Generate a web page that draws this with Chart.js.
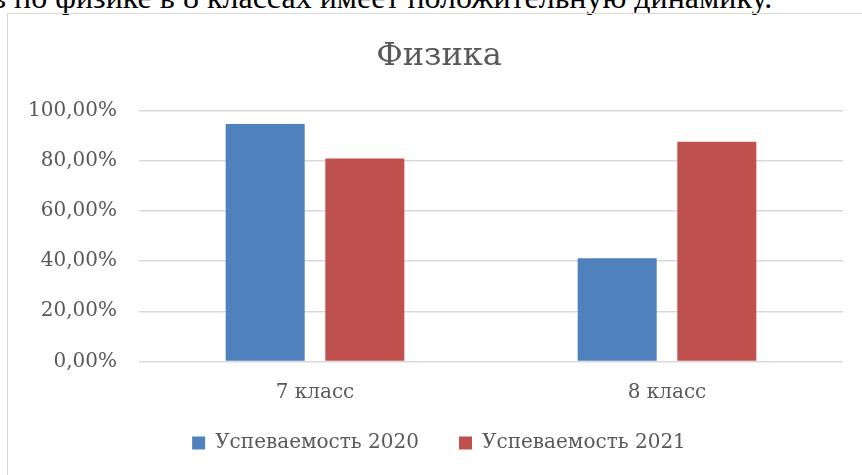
<!DOCTYPE html>
<html>
<head>
<meta charset="utf-8">
<script src="https://cdn.jsdelivr.net/npm/chart.js@4.4.0/dist/chart.umd.min.js"></script>
<style>
    html, body { margin: 0; padding: 0; background: #fff; overflow: hidden; }
    body { width: 862px; height: 475px; position: relative; }
    #doc-text {
        position: absolute; left: -9px; top: -19px; white-space: nowrap;
        font-family: "Liberation Serif", serif; font-size: 32px; line-height: 32px; color: #000;
    }
    #frame {
        position: absolute; left: 7px; top: 13px; width: 900px; height: 500px;
        border-left: 1px solid #d9d9d9; border-top: 1px solid #d9d9d9;
    }
    #chart-box { position: absolute; left: 8px; top: 14px; width: 862px; height: 461px; }
</style>
</head>
<body>
<div id="doc-text">в по физике в 8 классах имеет положительную динамику.</div>
<div id="frame"></div>
<div id="chart-box"><canvas id="physics-chart"></canvas></div>
<script>
// Chart data
const chartTitle = 'Физика';
const categories = ['7 класс', '8 класс'];
const seriesNames = ['Успеваемость 2020', 'Успеваемость 2021'];
const results2020 = [94.6, 41.1];
const results2021 = [80.8, 87.5];
const yTicks = [0, 20, 40, 60, 80, 100];

const textColor = '#595959';
const fontFamily = '"DejaVu Serif", "Liberation Serif", serif';

function formatPercent(v) {
    return v.toFixed(2).replace('.', ',') + '%';
}

document.addEventListener('DOMContentLoaded', function() {
    const ctx = document.getElementById('physics-chart');

    new Chart(ctx, {
        type: 'bar',
        data: {
            labels: categories,
            datasets: [
                {
                    label: seriesNames[0],
                    data: results2020,
                    backgroundColor: '#4f81bd',
                    categoryPercentage: 0.566,
                    barPercentage: 0.793
                },
                {
                    label: seriesNames[1],
                    data: results2021,
                    backgroundColor: '#c0504d',
                    categoryPercentage: 0.566,
                    barPercentage: 0.793
                }
            ]
        },
        options: {
            responsive: true,
            maintainAspectRatio: false,
            animation: false,
            layout: {
                padding: { left: 0, right: 0, top: 0, bottom: 12 }
            },
            scales: {
                x: {
                    grid: { display: false, drawTicks: false },
                    border: { display: false },
                    ticks: {
                        color: textColor,
                        padding: 19,
                        font: { family: fontFamily, size: 20 }
                    },
                    afterFit: function(scale) { scale.height = 61.5; }
                },
                y: {
                    min: 0,
                    max: 100,
                    afterBuildTicks: function(scale) {
                        scale.ticks = yTicks.map(v => ({ value: v }));
                    },
                    grid: { color: '#d9d9d9', lineWidth: 1.5, drawTicks: false },
                    border: { display: false },
                    ticks: {
                        color: textColor,
                        padding: 22,
                        font: { family: fontFamily, size: 20 },
                        callback: function(value) { return formatPercent(value); }
                    },
                    afterFit: function(scale) { scale.width = 131; }
                },
                // empty right margin so the title stays centred on the frame
                yRight: {
                    position: 'right',
                    display: true,
                    grid: { display: false, drawTicks: false },
                    border: { display: false },
                    ticks: { display: false },
                    afterFit: function(scale) { scale.width = 27; }
                }
            },
            plugins: {
                title: {
                    display: true,
                    text: chartTitle,
                    color: textColor,
                    font: { family: fontFamily, size: 32, weight: 'normal' },
                    padding: { top: 23, bottom: 35 }
                },
                legend: {
                    position: 'bottom',
                    labels: {
                        color: textColor,
                        boxWidth: 13,
                        boxHeight: 13,
                        padding: 10,
                        font: { family: fontFamily, size: 20 },
                        generateLabels: function(chart) {
                            const items = Chart.defaults.plugins.legend.labels.generateLabels(chart);
                            items[0].text += '\u2002\u2002\u2002';
                            return items;
                        }
                    }
                },
                tooltip: { enabled: false }
            }
        }
    });
});
</script>
</body>
</html>
